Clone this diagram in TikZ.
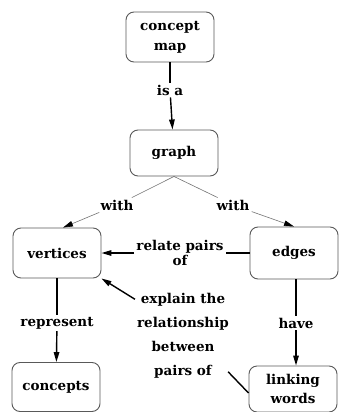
\documentclass[tikz,border=0pt]{standalone}
\usepackage{fontspec}
\setmainfont{DejaVu Serif}
\usetikzlibrary{arrows.meta}
\tikzset{
  concept/.style={draw=black!65, line width=0.9pt, rounded corners=8pt, align=center,
    font=\bfseries\fontsize{13.5}{15}\selectfont, minimum width=88pt, minimum height=48pt, inner sep=1pt},
  linkword/.style={align=center, font=\bfseries\fontsize{13.5}{15}\selectfont, inner sep=2pt},
  conn/.style={line width=1.4pt},
  faint/.style={line width=0.6pt, black!55}
}

\begin{document}
\begin{tikzpicture}[x=1pt, y=-1pt, >={Triangle[length=10pt,width=5.5pt,black]}]
  \useasboundingbox (0,0) rectangle (340,412);
  % concepts
  \node [concept, minimum height=50pt] (cmap) at (170,37) {concept\\[5pt]map};
  \node [concept, minimum height=46pt] (graph) at (174,153) {graph};
  \node [concept, minimum height=50pt] (vert) at (57,253) {vertices};
  \node [concept, minimum height=52pt] (edges) at (294,253) {edges};
  \node [concept, minimum height=49pt] (concepts) at (56,387) {concepts};
  \node [concept, minimum height=46pt] (linking) at (293,389) {linking\\[4pt]words};
  % linking words
  \node [linkword] (isa) at (170,90) {is a};
  \node [linkword] (withL) at (117,205) {with};
  \node [linkword] (withR) at (233,205) {with};
  \node [linkword] (relate) at (180,253) {relate pairs\\of};
  \node [linkword] (repr) at (57,323) {represent};
  \node [linkword] (have) at (296,323) {have};
  \node [linkword] (explain) at (183,336) {explain the\\[9pt]relationship\\[9pt]between\\[9pt]pairs of};
  % connectors
  \draw [conn] (cmap) -- (isa);
  \draw [conn, ->] (isa) -- (graph);
  \draw [faint] (graph.south) -- (withL);
  \draw [faint] (graph.south) -- (withR);
  \draw [faint, ->] (withL) -- ([xshift=6pt]vert.north);
  \draw [faint, ->] (withR) -- (edges.north);
  \draw [conn] (edges) -- (relate);
  \draw [conn, ->] (relate) -- (vert);
  \draw [conn] (vert) -- (repr);
  \draw [conn, ->] (repr) -- (concepts);
  \draw [conn] (edges.south -| have) -- (have);
  \draw [conn, ->] (have) -- (linking.north -| have);
  \draw [conn] ([yshift=-4pt]linking.west) -- ([xshift=-3pt,yshift=9pt]explain.south east);
  \draw [conn, ->] ([yshift=-8pt]explain.north west) -- (vert.south east);
\end{tikzpicture}
\end{document}
